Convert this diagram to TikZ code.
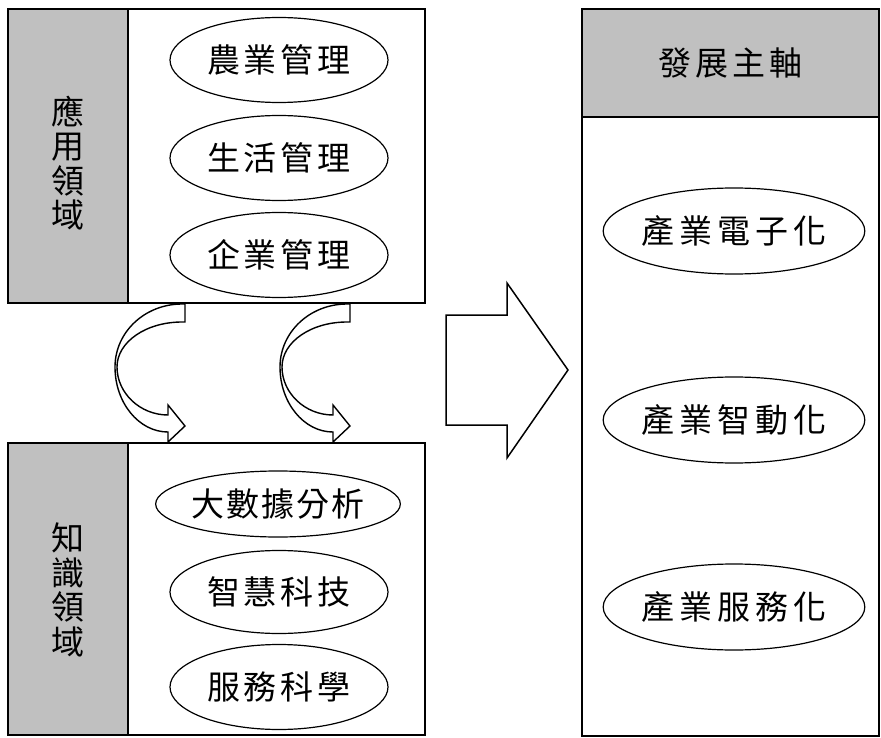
\documentclass[tikz,border=0pt]{standalone}
\usepackage{fontspec}
\newfontfamily\cjk{Noto Sans CJK TC}
\usetikzlibrary{shapes.geometric}
\definecolor{gfill}{RGB}{192,192,192}
\newcommand\gp{\hspace{4pt}}
\newcommand\gq{\hspace{5pt}}
\newcommand\gr{\hspace{2pt}}
\begin{document}
\begin{tikzpicture}[x=1pt,y=-1pt,line width=1.5pt,line join=miter,
  frame/.style={draw,line width=1.6pt,inner sep=0pt,outer sep=0pt,anchor=north west},
  graycol/.style={frame,fill=gfill},
  vtext/.style={align=center,inner sep=0pt,font=\cjk\fontsize{33}{34.5}\selectfont},
  oval/.style={draw,ellipse,line width=1.2pt,inner sep=0pt,font=\cjk\fontsize{33}{35}\selectfont},
  blockarrow/.style={draw,fill=white,line width=1.5pt}]
\useasboundingbox (0,0) rectangle (881,738);
% top-left box
\node[frame,minimum width=417,minimum height=294] (appbox) at (8,9) {};
\node[graycol,minimum width=120,minimum height=294] (appcol) at (8,9) {};
\node[vtext] (apptext) at (68,163) {應\\用\\領\\域};
\node[oval,minimum width=218,minimum height=85] (e1) at (279,60) {農\gp 業\gp 管\gp 理};
\node[oval,minimum width=218,minimum height=85] (e2) at (279,158) {生\gp 活\gp 管\gp 理};
\node[oval,minimum width=218,minimum height=85] (e3) at (279,255) {企\gp 業\gp 管\gp 理};
% bottom-left box
\node[frame,minimum width=417,minimum height=292] (knbox) at (8,443) {};
\node[graycol,minimum width=120,minimum height=292] (kncol) at (8,443) {};
\node[vtext] (kntext) at (68,590) {知\\識\\領\\域};
\node[oval,minimum width=220,minimum height=66] (k1) at (278,504) {大\gr 數\gr 據\gr 分\gr 析};
\node[oval,minimum width=218,minimum height=83] (k2) at (279,592) {智\gp 慧\gp 科\gp 技};
\node[oval,minimum width=218,minimum height=85] (k3) at (279,687) {服\gp 務\gp 科\gp 學};
% right box
\node[frame,minimum width=297,minimum height=727] (devbox) at (582,9) {};
\node[frame,fill=gfill,minimum width=297,minimum height=108,font=\cjk\fontsize{33}{35}\selectfont] (devhead) at (582,9) {發\gp 展\gp 主\gp 軸};
\node[oval,minimum width=252,minimum height=86] (d1) at (734,231) {產\gq 業\gq 電\gq 子\gq 化};
\node[oval,minimum width=252,minimum height=86] (d2) at (734,420) {產\gq 業\gq 智\gq 動\gq 化};
\node[oval,minimum width=252,minimum height=86] (d3) at (734,607) {產\gq 業\gq 服\gq 務\gq 化};
% big block arrow
\draw[blockarrow] (446,315) -- (507,315) -- (507,283) -- (568,370) -- (507,458) -- (507,425) -- (446,425) -- cycle;
% curved arrows
\foreach \dx in {0,165}{
\begin{scope}[shift={(\dx,0)}]
\draw[blockarrow,line width=1.4pt] (182,304) -- (185,304) -- (185,322) -- (182,322)
  .. controls (146,322) and (117,342) .. (117,367)
  .. controls (117,393) and (140,415) .. (168,415)
  -- (168,405) -- (185,426) -- (168,442) -- (168,432)
  .. controls (139,432) and (115,403) .. (115,367)
  .. controls (115,332) and (145,304) .. (182,304) -- cycle;
\end{scope}}
\end{tikzpicture}
\end{document}
